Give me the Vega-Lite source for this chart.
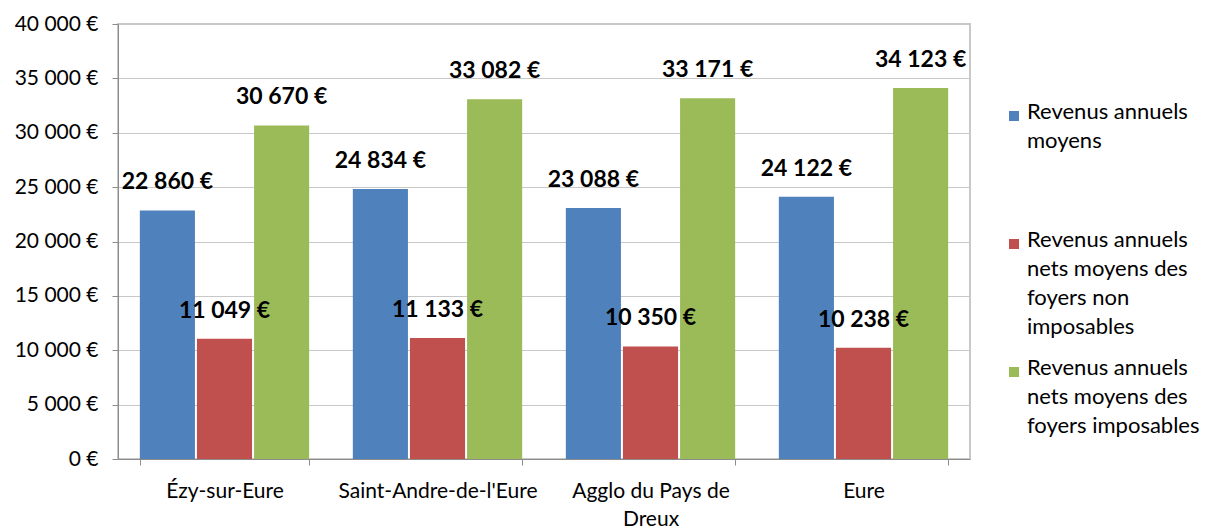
{
  "$schema": "https://vega.github.io/schema/vega-lite/v6.json",
  "width": 852,
  "height": 435,
  "autosize": {"type": "none"},
  "padding": {"left": 118, "top": 24, "right": 240, "bottom": 70},
  "config": {
    "font": "Lato",
    "locale": {"number": {"decimal": ",", "thousands": " ", "grouping": [3], "currency": ["", " €"]}},
    "view": {"stroke": "#c8c8c8", "strokeWidth": 2},
    "style": {"guide-label": {"lineHeight": 29}},
    "axis": {"labelFont": "Lato", "labelFontSize": 21, "labelColor": "#000000", "domainColor": "#8c8c8c", "tickColor": "#8c8c8c", "gridColor": "#c8c8c8", "tickSize": 6}
  },
  "data": {
    "values": [
      {"lieu": "Ézy-sur-Eure", "serie": "Revenus annuels moyens", "valeur": 22860},
      {"lieu": "Ézy-sur-Eure", "serie": "Revenus annuels nets moyens des foyers non imposables", "valeur": 11049},
      {"lieu": "Ézy-sur-Eure", "serie": "Revenus annuels nets moyens des foyers imposables", "valeur": 30670},
      {"lieu": "Saint-Andre-de-l'Eure", "serie": "Revenus annuels moyens", "valeur": 24834},
      {"lieu": "Saint-Andre-de-l'Eure", "serie": "Revenus annuels nets moyens des foyers non imposables", "valeur": 11133},
      {"lieu": "Saint-Andre-de-l'Eure", "serie": "Revenus annuels nets moyens des foyers imposables", "valeur": 33082},
      {"lieu": "Agglo du Pays de Dreux", "serie": "Revenus annuels moyens", "valeur": 23088},
      {"lieu": "Agglo du Pays de Dreux", "serie": "Revenus annuels nets moyens des foyers non imposables", "valeur": 10350},
      {"lieu": "Agglo du Pays de Dreux", "serie": "Revenus annuels nets moyens des foyers imposables", "valeur": 33171},
      {"lieu": "Eure", "serie": "Revenus annuels moyens", "valeur": 24122},
      {"lieu": "Eure", "serie": "Revenus annuels nets moyens des foyers non imposables", "valeur": 10238},
      {"lieu": "Eure", "serie": "Revenus annuels nets moyens des foyers imposables", "valeur": 34123}
    ]
  },
  "encoding": {
    "x": {
      "field": "lieu", "type": "nominal", "sort": null, "title": null,
      "scale": {"paddingInner": 0.205, "paddingOuter": 0.1025},
      "axis": {"labelAngle": 0, "tickBand": "extent", "labelPadding": 15, "labelLimit": 400, "labelOverlap": false,
        "labelExpr": "datum.label == 'Agglo du Pays de Dreux' ? ['Agglo du Pays de', 'Dreux'] : datum.label", "labelLineHeight": 28}
    },
    "xOffset": {"field": "serie", "type": "nominal", "sort": null, "scale": {"paddingInner": 0.035}},
    "y": {
      "field": "valeur", "type": "quantitative", "title": null,
      "scale": {"domain": [0, 40000], "nice": false},
      "axis": {"values": [0, 5000, 10000, 15000, 20000, 25000, 30000, 35000, 40000], "format": "$,.0f", "labelPadding": 14}
    }
  },
  "layer": [
    {
      "mark": {"type": "bar"},
      "encoding": {
        "color": {
          "field": "serie", "type": "nominal", "sort": null,
          "scale": {"range": ["#4f81bd", "#c0504d", "#9bbb59"]},
          "legend": {
            "title": null, "orient": "none", "legendX": 885, "legendY": 81,
            "symbolType": "square", "symbolSize": 100, "labelFontSize": 22, "labelFont": "Lato", "labelColor": "#000000",
            "labelLimit": 300, "labelBaseline": "top", "labelOffset": 2, "rowPadding": 19,
            "encode": {"labels": {"update": {"dy": {"value": -14}}}},
            "labelExpr": "datum.label == 'Revenus annuels moyens' ? ['Revenus annuels', 'moyens', ' ', ' '] : datum.label == 'Revenus annuels nets moyens des foyers non imposables' ? ['Revenus annuels', 'nets moyens des', 'foyers non', 'imposables'] : ['Revenus annuels', 'nets moyens des', 'foyers imposables']"
          }
        }
      }
    },
    {
      "mark": {"type": "text", "fontWeight": "bold", "fontSize": 23, "baseline": "middle", "dy": -28, "color": "#000000"},
      "encoding": {
        "text": {"field": "valeur", "type": "quantitative", "format": "$,.0f"}
      }
    }
  ]
}
